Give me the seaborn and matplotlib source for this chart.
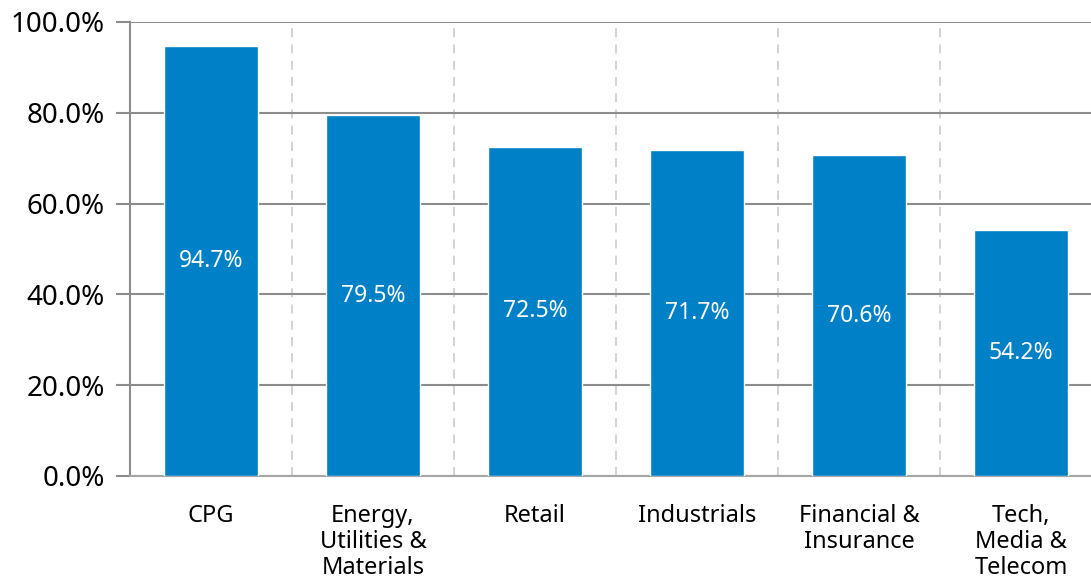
import matplotlib
matplotlib.use("Agg")
import matplotlib.pyplot as plt
import seaborn as sns
import pandas as pd
from matplotlib.ticker import PercentFormatter, FixedLocator

categories = ["CPG", "Energy,\nUtilities &\nMaterials", "Retail", "Industrials",
              "Financial &\nInsurance", "Tech,\nMedia &\nTelecom"]
values = [94.7, 79.5, 72.5, 71.7, 70.6, 54.2]
yticks = [0, 20, 40, 60, 80, 100]

sns.set_theme(style="white")
plt.rcParams['font.family'] = ['Noto Sans', 'DejaVu Sans']

df = pd.DataFrame({"category": categories, "value": values})

fig = plt.figure(figsize=(10.91, 5.79), dpi=100)
W, H = 1091, 579
ax = fig.add_axes([130 / W, (H - 476) / H, 972 / W, (476 - 22) / H])

sns.barplot(data=df, x="category", y="value", color="#0080C6", saturation=1,
            width=0.58, ax=ax, zorder=3)

ax.set_xlim(-0.5, len(categories) - 0.5)
ax.set_ylim(0, 100)
ax.set_yticks(yticks)
ax.yaxis.set_major_formatter(PercentFormatter(decimals=1))
ax.set_xlabel("")
ax.set_ylabel("")

# horizontal gridlines
ax.yaxis.grid(True, color="#8c8c8c", linewidth=1.5, linestyle="-", zorder=0)
ax.set_axisbelow(True)

# boundaries between categories
bounds = [i - 0.5 for i in range(len(categories) + 1)]
ax.xaxis.set_minor_locator(FixedLocator(bounds))
ax.xaxis.grid(True, which="minor", color="#d0d0d0", linewidth=1.3, linestyle=(0, (5, 4)))
ax.xaxis.grid(False, which="major")

ax.tick_params(axis="x", which="major", length=0, pad=20, labelsize=17, labelcolor="black")
ax.tick_params(axis="x", which="minor", length=8, width=1.5, color="#8c8c8c", direction="out")
ax.tick_params(axis="y", length=10, width=1.5, color="#8c8c8c", direction="out", pad=8,
               labelsize=20, labelcolor="black", left=True)
for lbl in ax.get_xticklabels():
    lbl.set_linespacing(1.12)

for s in ["top", "right"]:
    ax.spines[s].set_visible(False)
ax.spines["left"].set_color("#8c8c8c")
ax.spines["left"].set_linewidth(1.5)
ax.spines["bottom"].set_color("#a6a6a6")
ax.spines["bottom"].set_linewidth(1.5)

for c in ax.containers:
    ax.bar_label(c, labels=[f"{v:.1f}%" for v in values], label_type="center",
                 color="white", fontsize=16.5)

fig.savefig("out.png", dpi=100)
